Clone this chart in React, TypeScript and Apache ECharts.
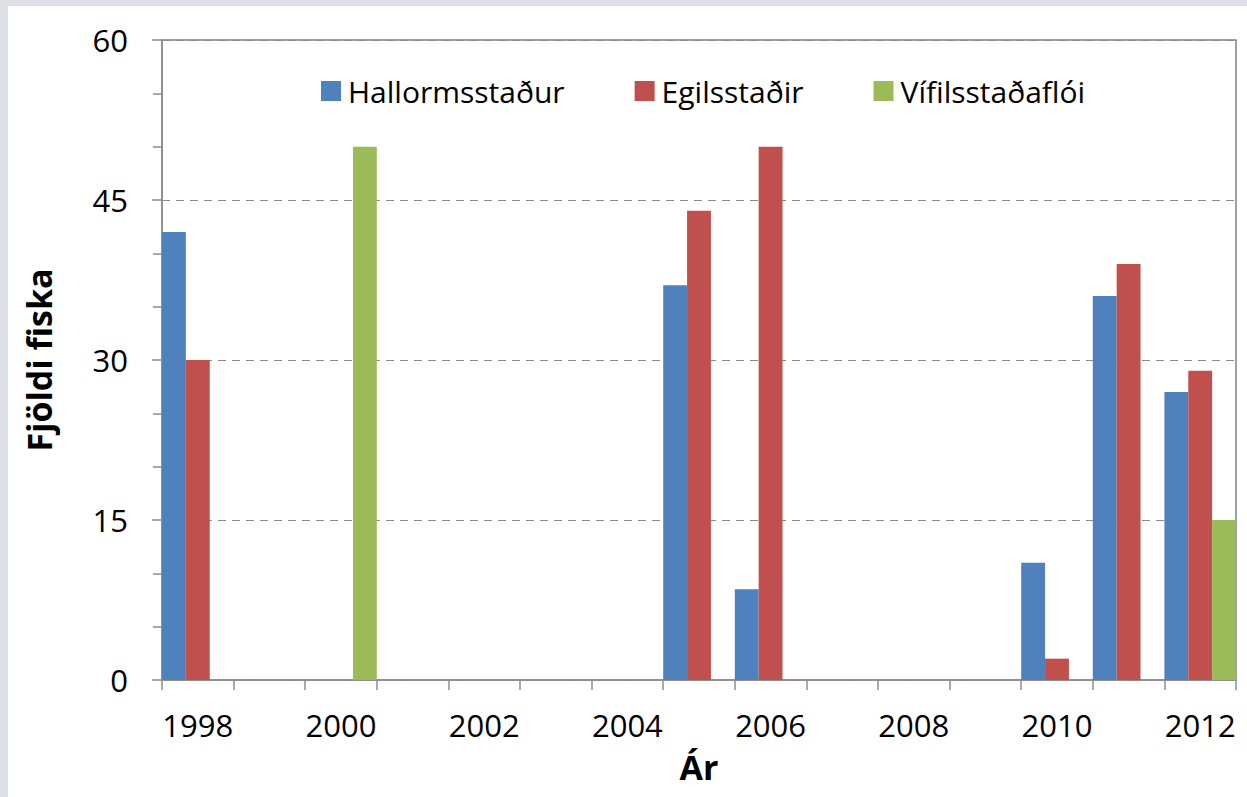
import React, { useEffect, useRef } from "react";
import * as echarts from "echarts";

const years = ["1998","1999","2000","2001","2002","2003","2004","2005","2006","2007","2008","2009","2010","2011","2012"];
const hallormsstadur = [42, null, null, null, null, null, null, 37, 8.5, null, null, null, 11, 36, 27];
const egilsstadir = [30, null, null, null, null, null, null, 44, 50, null, null, null, 2, 39, 29];
const vifilsstadafloi = [null, null, 50, null, null, null, null, null, null, null, null, null, null, null, 15];
const seriesNames = ["Hallormsstaður", "Egilsstaðir", "Vífilsstaðaflói"];
const colors = ["#4F81BD", "#C0504D", "#9BBB59"];

const FONT = "'Open Sans', 'Liberation Sans', sans-serif";

export default function App() {
  const ref = useRef<HTMLDivElement>(null);
  useEffect(() => {
    if (!ref.current) return;
    const chart = echarts.init(ref.current, undefined, { renderer: "svg" });
    const data = [hallormsstadur, egilsstadir, vifilsstadafloi];
    chart.setOption({
      animation: false,
      backgroundColor: "#ffffff",
      textStyle: { fontFamily: FONT },
      graphic: [
        { type: "rect", left: 0, top: 0, shape: { width: 1247, height: 6 }, style: { fill: "#dde1e6" }, z: -10 },
        { type: "rect", left: 0, top: 0, shape: { width: 8, height: 797 }, style: { fill: "#dde1e6" }, z: -10 },
      ],
      legend: {
        left: 316,
        top: 71,
        itemWidth: 20,
        itemHeight: 20,
        itemGap: 70,
        icon: "rect",
        textStyle: { fontSize: 30, color: "#000", fontFamily: FONT, padding: [0, 0, 0, 2] },
        data: seriesNames,
      },
      grid: {
        left: 162,
        right: 11,
        top: 40,
        bottom: 117,
        show: true,
        borderColor: "#808080",
        borderWidth: 1.5,
        backgroundColor: "transparent",
      },
      xAxis: {
        type: "category",
        data: years,
        boundaryGap: true,
        name: "Ár",
        nameLocation: "middle",
        nameGap: 70,
        nameTextStyle: { fontSize: 34, fontWeight: "bold", color: "#000", fontFamily: FONT },
        axisLine: { show: true, lineStyle: { color: "#8c8c8c", width: 1.5 } },
        axisTick: { show: true, interval: 0, length: 10, lineStyle: { color: "#8c8c8c", width: 1.5 } },
        axisLabel: { interval: 1, fontSize: 31, color: "#000", margin: 29, fontFamily: FONT },
        splitLine: { show: false },
      },
      yAxis: {
        type: "value",
        min: 0,
        max: 60,
        interval: 15,
        name: "Fjöldi fiska",
        nameLocation: "middle",
        nameGap: 106,
        nameTextStyle: { fontSize: 34, fontWeight: "bold", color: "#000", fontFamily: FONT },
        axisLine: { show: true, lineStyle: { color: "#8c8c8c", width: 1.5 } },
        axisTick: { show: true, length: 10, lineStyle: { color: "#8c8c8c", width: 1.5 } },
        minorTick: { show: true, splitNumber: 3, length: 9, lineStyle: { color: "#8c8c8c", width: 1.5 } },
        axisLabel: { fontSize: 31, color: "#000", margin: 34, fontFamily: FONT },
        splitLine: { show: true, lineStyle: { color: "#8c8c8c", type: [8, 6], width: 1.2 } },
        minorSplitLine: { show: false },
      },
      series: seriesNames.map((name, i) => ({
        name,
        type: "bar",
        data: data[i],
        barGap: "0%",
        barCategoryGap: "0%",
        itemStyle: { color: colors[i] },
      })),
    });
    return () => chart.dispose();
  }, []);
  return (
    <div
      ref={ref}
      style={{ position: "fixed", left: 0, top: 0, width: 1247, height: 797 }}
    />
  );
}
